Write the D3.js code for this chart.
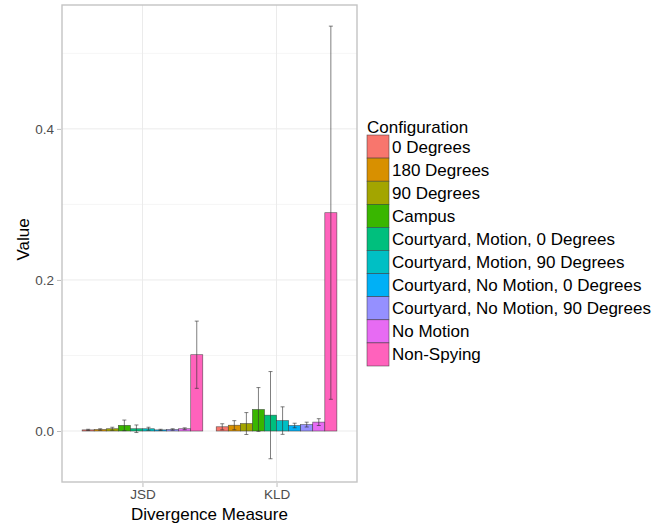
<!DOCTYPE html>
<html>
<head>
<meta charset="utf-8">
<script src="https://cdn.jsdelivr.net/npm/d3@7"></script>
<style>
  body { margin: 0; background: #fff; }
  text { font-family: "Liberation Sans", Arial, sans-serif; }
</style>
</head>
<body>
<svg id="chart"></svg>
<script>
var measures = ["JSD", "KLD"];
var configs = ["0 Degrees", "180 Degrees", "90 Degrees", "Campus",
  "Courtyard, Motion, 0 Degrees", "Courtyard, Motion, 90 Degrees",
  "Courtyard, No Motion, 0 Degrees", "Courtyard, No Motion, 90 Degrees",
  "No Motion", "Non-Spying"];
var colors = ["#F8766D", "#D89000", "#A3A500", "#39B600", "#00BF7D",
  "#00BFC4", "#00B0F6", "#9590FF", "#E76BF3", "#FF62BC"];

var jsdMean = [0.0015, 0.002, 0.003, 0.0075, 0.003, 0.003, 0.0015, 0.002, 0.003, 0.101];
var jsdErr  = [0.0008, 0.001, 0.002, 0.007, 0.005, 0.002, 0.0008, 0.001, 0.0012, 0.0445];
var kldMean = [0.0056, 0.0077, 0.0099, 0.0285, 0.021, 0.0138, 0.0073, 0.0085, 0.0118, 0.289];
var kldErr  = [0.004, 0.006, 0.0145, 0.029, 0.0577, 0.0182, 0.003, 0.0032, 0.0045, 0.247];

var yTicks = [0.0, 0.2, 0.4];
var yMinor = [-0.1, 0.1, 0.3, 0.5];

var width = 667, height = 525;
var panel = { left: 62, right: 357, top: 5, bottom: 482 };

var svg = d3.select("#chart").attr("width", width).attr("height", height);

var rows = [];
measures.forEach(function(m, mi) {
  var means = mi === 0 ? jsdMean : kldMean;
  var errs = mi === 0 ? jsdErr : kldErr;
  configs.forEach(function(c, ci) {
    rows.push({ measure: m, config: c, value: means[ci], err: errs[ci], color: colors[ci] });
  });
});

var x = d3.scalePoint().domain(measures).range([panel.left, panel.right]).padding(0.6);
var step = x.step();
var xInner = d3.scaleBand().domain(configs).range([-step * 0.45, step * 0.45]);
var y = d3.scaleLinear().domain([-0.0675, 0.564]).range([panel.bottom, panel.top]);

// grid
var grid = svg.append("g");
grid.selectAll(".minor").data(yMinor.filter(function(v) { return y(v) > panel.top && y(v) < panel.bottom; }))
  .enter().append("line")
  .attr("x1", panel.left).attr("x2", panel.right)
  .attr("y1", function(d) { return y(d); }).attr("y2", function(d) { return y(d); })
  .attr("stroke", "#f2f2f2").attr("stroke-width", 0.8);
grid.selectAll(".major").data(yTicks).enter().append("line")
  .attr("x1", panel.left).attr("x2", panel.right)
  .attr("y1", function(d) { return y(d); }).attr("y2", function(d) { return y(d); })
  .attr("stroke", "#ebebeb").attr("stroke-width", 1);
grid.selectAll(".vmajor").data(measures).enter().append("line")
  .attr("y1", panel.top).attr("y2", panel.bottom)
  .attr("x1", function(d) { return x(d); }).attr("x2", function(d) { return x(d); })
  .attr("stroke", "#ebebeb").attr("stroke-width", 1);

// bars
svg.append("g").selectAll("rect").data(rows).enter().append("rect")
  .attr("x", function(d) { return x(d.measure) + xInner(d.config); })
  .attr("width", xInner.bandwidth())
  .attr("y", function(d) { return y(Math.max(0, d.value)); })
  .attr("height", function(d) { return Math.abs(y(d.value) - y(0)); })
  .attr("fill", function(d) { return d.color; })
  .attr("stroke", "#333").attr("stroke-opacity", 0.8).attr("stroke-width", 0.6);

// error bars
var cap = 2;
var eb = svg.append("g").attr("stroke", "#333").attr("stroke-opacity", 0.7).attr("stroke-width", 0.9);
rows.forEach(function(d) {
  var cx = x(d.measure) + xInner(d.config) + xInner.bandwidth() / 2;
  var y1 = y(d.value + d.err), y2 = y(d.value - d.err);
  eb.append("line").attr("x1", cx).attr("x2", cx).attr("y1", y1).attr("y2", y2);
  eb.append("line").attr("x1", cx - cap).attr("x2", cx + cap).attr("y1", y1).attr("y2", y1);
  eb.append("line").attr("x1", cx - cap).attr("x2", cx + cap).attr("y1", y2).attr("y2", y2);
});

// panel border
svg.append("rect")
  .attr("x", panel.left).attr("y", panel.top)
  .attr("width", panel.right - panel.left).attr("height", panel.bottom - panel.top)
  .attr("fill", "none").attr("stroke", "#c4c4c4").attr("stroke-width", 1.4);

// axes
var yAxis = svg.append("g").attr("transform", "translate(" + (panel.left - 1) + ",0)")
  .call(d3.axisLeft(y).tickValues(yTicks).tickFormat(d3.format(".1f")).tickSize(4).tickPadding(3));
var xAxis = svg.append("g").attr("transform", "translate(0," + (panel.bottom + 1) + ")")
  .call(d3.axisBottom(x).tickSize(4).tickPadding(2));
[yAxis, xAxis].forEach(function(a) {
  a.select(".domain").remove();
  a.selectAll(".tick line").attr("stroke", "#bdbdbd");
  a.selectAll(".tick text").attr("fill", "#4d4d4d")
    .style("font-family", "'Liberation Sans', Arial, sans-serif").style("font-size", "13.5px");
});

svg.append("text").attr("x", (panel.left + panel.right) / 2).attr("y", 520)
  .attr("text-anchor", "middle").style("font-size", "17px").text("Divergence Measure");
svg.append("text").attr("transform", "translate(29," + ((panel.top + panel.bottom) / 2 - 4) + ") rotate(-90)")
  .attr("text-anchor", "middle").style("font-size", "17px").text("Value");

// legend
var legend = svg.append("g").attr("transform", "translate(367,0)");
legend.append("text").attr("x", 0).attr("y", 133).style("font-size", "17px").text("Configuration");
var keyH = 23.1;
var items = legend.selectAll(".item").data(configs).enter().append("g")
  .attr("transform", function(d, i) { return "translate(0," + (135 + i * keyH) + ")"; });
items.append("rect").attr("x", 0).attr("y", 0).attr("width", 22).attr("height", keyH)
  .attr("fill", function(d, i) { return colors[i]; })
  .attr("stroke", "#333").attr("stroke-opacity", 0.8).attr("stroke-width", 0.6);
items.append("text").attr("x", 25).attr("y", keyH / 2 + 6)
  .style("font-size", "17px").text(function(d) { return d; });
</script>
</body>
</html>
